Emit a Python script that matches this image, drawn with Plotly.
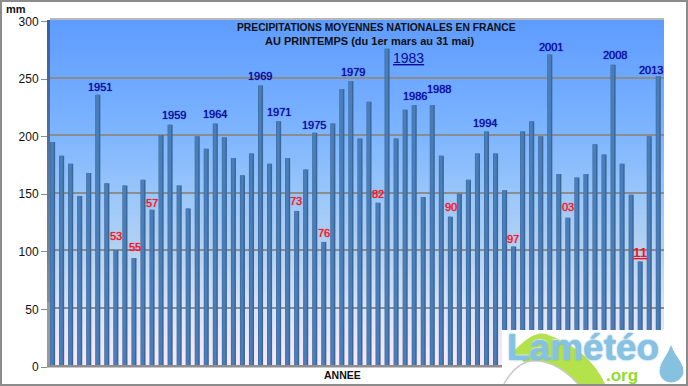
import plotly.graph_objects as go

W, H = 688, 386
YEARS = list(range(1946, 2014))
RAIN = [194, 182, 175, 147, 167, 235, 158, 100, 156, 93, 161, 135, 200, 209, 156, 136, 199, 188, 210, 198,
        180, 165, 184, 243, 175, 212, 180, 134, 170, 202, 107, 210, 240, 247, 197, 229, 141, 275, 197, 222,
        226, 146, 226, 182, 129, 149, 161, 184, 203, 184, 152, 103, 203, 212, 199, 270, 166, 128, 163, 166,
        192, 183, 261, 175, 148, 90, 199, 251]
Y_TICKS = [0, 50, 100, 150, 200, 250, 300]
TITLE_1 = "PRECIPITATIONS MOYENNES NATIONALES EN FRANCE"
TITLE_2 = "AU PRINTEMPS (du 1er mars au 31 mai)"
WET_TEXT = ["1951", "1959", "1964", "1969", "1971", "1975", "1979", "1986", "1988", "1994", "2001", "2008", "2013"]
WET_X = [100, 174, 215, 260, 279, 314, 353, 415, 439, 485, 551, 615, 651]
WET_Y = [87, 115, 114, 76, 112, 125, 72, 96, 89, 123, 47, 55, 70]
DRY_TEXT = ["53", "55", "57", "73", "76", "82", "90", "97", "03"]
DRY_X = [116, 135, 152, 296, 324, 378, 451, 513, 568]
DRY_Y = [236, 247, 203, 201, 233, 194, 207, 239, 207]

FONT = "Liberation Sans"
def fx(x): return x / W
def fy(y): return 1 - y / H

def hexrgb(c): return [int(c[i:i+2], 16) for i in (1, 3, 5)]
STOPS = [(20, "#5E9CFF"), (135, "#7FB6FF"), (192, "#9AC7FA"), (250, "#B6D2F0"), (308, "#DCE3F5"), (365, "#FCE9FA")]
def grad(y, dark=1.0):
    for (a, ca), (b, cb) in zip(STOPS, STOPS[1:]):
        if a <= y <= b:
            t = (y - a) / (b - a)
            r = [int((p + (q - p) * t) * dark) for p, q in zip(hexrgb(ca), hexrgb(cb))]
            return "rgb(%d,%d,%d)" % tuple(r)
    return STOPS[-1][1]

def rect(x0, y0, x1, y1, color, layer="below"):
    return dict(type="rect", xref="paper", yref="paper", x0=fx(x0), x1=fx(x1), y0=fy(y0), y1=fy(y1),
                fillcolor=color, line=dict(width=0), layer=layer)

shapes = []
for y in range(20, 365, 3):
    shapes.append(rect(50, y, 664, y + 3.2, grad(y)))
    shapes.append(rect(47, y, 50, y + 3.2, "#9A9A9A" if y > 300 else grad(y, 0.62)))
shapes.append(rect(50, 18, 664, 20, "#B8B8B8"))
shapes.append(rect(47, 365, 664, 367.5, "#8E8E8E", "between"))
shapes.append(dict(type="line", xref="paper", yref="y", x0=fx(50), x1=fx(664), y0=200, y1=200,
                   line=dict(color="#A39A80", width=2), layer="between"))

# logo
shapes.append(rect(502, 330, 687, 384.5, "#FFFFFF", "above"))
def path(d, fill, line=None, lw=0):
    return dict(type="path", xref="paper", yref="paper", path=d, fillcolor=fill,
                line=dict(color=line or fill, width=lw), layer="above")
def P(*pts):
    out = []
    for p in pts:
        if isinstance(p, str):
            out.append(p)
        else:
            out.append("%.5f,%.5f" % (fx(p[0]), fy(p[1])))
    return " ".join(out)
shapes.append(path(P("M", (513, 352), "Q", (533, 330), (546, 334), "Q", (590, 350), (605, 384),
                     "L", (578, 384), "Q", (552, 356), (524, 362), "Z"), "#B4E24A"))
shapes.append(path(P("M", (504, 384), "Q", (518, 358), (540, 361), "Q", (560, 364), (578, 384)),
                   "rgba(255,255,255,0)", "#C8C8C8", 1.5))
shapes.append(path(P("M", (671, 343), "C", (668, 355), (659, 362), (659, 371), "C", (659, 378), (665, 383), (671, 383),
                     "C", (677, 383), (684, 378), (684, 371), "C", (684, 362), (674, 355), (671, 343), "Z"),
                   "#86C2E0", "#FFFFFF", 1))
# chart frame
for box in [(0, 0, 688, 2), (0, 384, 688, 386), (0, 0, 2, 386), (686, 0, 688, 386)]:
    shapes.append(rect(*box, "#8C8C8C", "above"))

def note(text, x, y, size, color, bold=False, shadow=None):
    t = "<b>%s</b>" % text if bold else text
    font = dict(family=FONT, size=size, color=color)
    if shadow:
        font["shadow"] = shadow
    return dict(text=t, xref="paper", yref="paper", x=fx(x), y=fy(y), xanchor="center", yanchor="middle",
                showarrow=False, font=font)

annots = [note(TITLE_1, 376, 27, 10.3, "#111111", True), note(TITLE_2, 369.5, 41, 11, "#111111", True),
          note("ANNEE", 342, 375, 10.5, "#111111", True), note("mm", 16, 9, 11, "#111111", True)]
annots += [note(t, x, y, 11, "#0A0A9A", shadow="0 0 1px #0A0A9A") for t, x, y in zip(WET_TEXT, WET_X, WET_Y)]
annots += [note(t, x, y, 11, "#FF1020", shadow="0 0 1px #FF1020") for t, x, y in zip(DRY_TEXT, DRY_X, DRY_Y)]
annots.append(note("<u>1983</u>", 408, 58, 14, "#0A0A9A"))
annots.append(note("<u>11</u>", 640, 252, 13.5, "#FF1020", True))
annots.append(note("Lamétéo", 583, 347, 37, "#86C2E4", True, "0 0 2px #5D9FC5, 0 -1px 1px #FFFFFF"))
annots.append(note(".org", 622, 375, 17, "#92DC2A", True))

fig = go.Figure()
fig.add_bar(x=YEARS, y=RAIN, width=0.56, marker=dict(color="#3A6797", line=dict(width=0)), hoverinfo="skip")
fig.add_bar(x=YEARS, y=RAIN, width=0.34, offset=-0.22, marker=dict(color="#4A7EBB", line=dict(width=0)), hoverinfo="skip")
fig.add_scatter(x=[YEARS[0]], y=[0], yaxis="y2", mode="markers", marker=dict(opacity=0, size=1), hoverinfo="skip")

x_per_px = 1 / 9.03
fig.update_layout(
    width=W, height=H, margin=dict(l=0, r=0, t=0, b=0, pad=0), showlegend=False,
    paper_bgcolor="white", plot_bgcolor="rgba(0,0,0,0)", barmode="overlay",
    shapes=shapes, annotations=annots,
    xaxis=dict(domain=[fx(50), fx(664)], range=[1946 - 2.6 * x_per_px, 2013 + 5.7 * x_per_px], automargin=False,
               showgrid=False, showticklabels=False, ticks="", zeroline=False, showline=False),
    yaxis=dict(domain=[fy(365), fy(20)], range=[0, 300], tickvals=Y_TICKS, showticklabels=False, ticks="", automargin=False,
               gridcolor="#8C8C8C", gridwidth=2, zeroline=False, showline=False),
    yaxis2=dict(domain=[fy(367), fy(21.5)], range=[0, 300], tickvals=Y_TICKS, anchor="free", automargin=False,
                position=fx(47), side="left", showgrid=False, zeroline=False, showline=False,
                ticks="outside", ticklen=6, tickwidth=1, tickcolor="#8C8C8C",
                tickfont=dict(family=FONT, size=12, color="#111111")),
)
fig.write_html("out.html", config={"displayModeBar": False},
               post_script="document.body.style.margin='0';document.documentElement.style.overflow='hidden';")
